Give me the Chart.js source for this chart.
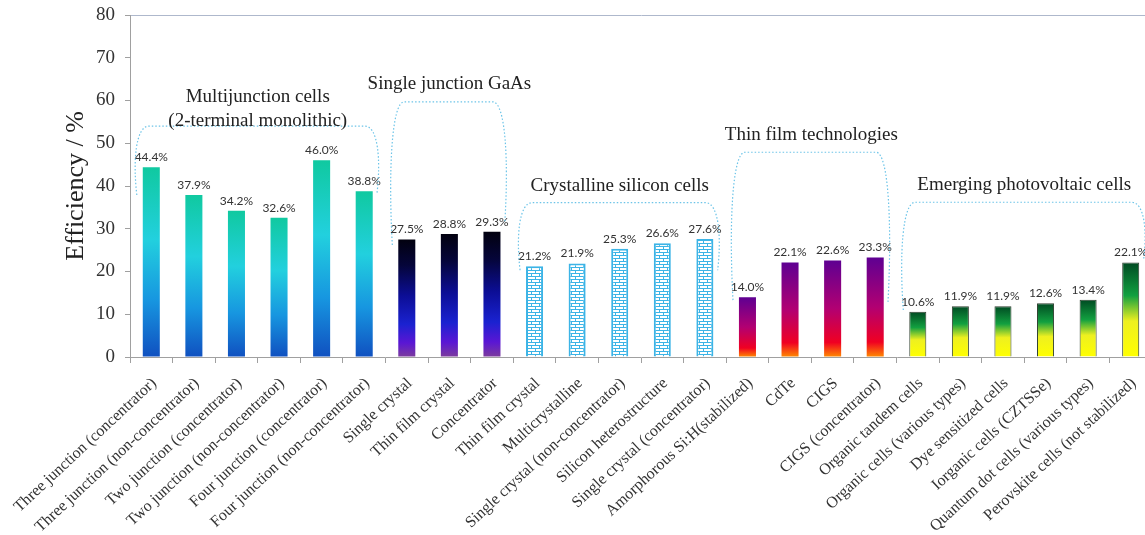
<!DOCTYPE html>
<html>
<head>
<meta charset="utf-8">
<title>Solar cell record efficiencies</title>
<script src="https://cdn.jsdelivr.net/npm/chart.js@4.4.1/dist/chart.umd.min.js"></script>
<style>
  html, body { margin: 0; padding: 0; background: #fff; overflow: hidden; }
  #wrap { width: 1152px; height: 535px; }
</style>
</head>
<body>
<div id="wrap"><canvas id="myChart" width="1152" height="535"></canvas></div>
<script>
// Cell types, in plotting order
const categories = [
    'Three junction (concentrator)', 'Three junction (non-concentrator)', 'Two junction (concentrator)',
    'Two junction (non-concentrator)', 'Four junction (concentrator)', 'Four junction (non-concentrator)',
    'Single crystal', 'Thin film crystal', 'Concentrator',
    'Thin film crystal', 'Multicrystalline', 'Single crystal (non-concentrator)',
    'Silicon heterostructure', 'Single crystal (concentrator)',
    'Amorphorous Si:H(stabilized)', 'CdTe', 'CIGS', 'CIGS (concentrator)',
    'Organic tandem cells', 'Organic cells (various types)', 'Dye sensitized cells',
    'Iorganic cells (CZTSSe)', 'Quantum dot cells (various types)', 'Perovskite cells (not stabilized)'
];

// Best efficiency (%)
const efficiency = [
    44.4, 37.9, 34.2, 32.6, 46.0, 38.8,
    27.5, 28.8, 29.3,
    21.2, 21.9, 25.3, 26.6, 27.6,
    14.0, 22.1, 22.6, 23.3,
    10.6, 11.9, 11.9, 12.6, 13.4, 22.1
];

const yTicks = [0, 10, 20, 30, 40, 50, 60, 70, 80];

// Technology groups: first and last category index of each
const groupTitles = [
    ['Multijunction cells', '(2-terminal monolithic)'],
    ['Single junction GaAs'],
    ['Crystalline silicon cells'],
    ['Thin film technologies'],
    ['Emerging photovoltaic cells']
];
const groupFrom = [0, 6, 9, 14, 18];
const groupTo = [5, 8, 13, 17, 23];

// bracket shape per group, in efficiency units: top edge, left foot, right foot, title centre
const brackets = [
    { top: 54.0, leftFoot: 37.9, rightFoot: 38.3, title: 60.8 },
    { top: 59.7, leftFoot: 26.2, rightFoot: 31.3, title: 63.9 },
    { top: 36.1, leftFoot: 20.3, rightFoot: 20.3, title: 39.9 },
    { top: 47.9, leftFoot: 13.3, rightFoot: 12.9, title: 51.9 },
    { top: 36.2, leftFoot: 11.0, rightFoot: 22.6, title: 40.2 }
];

const groupOf = categories.map((_, i) => groupFrom.findIndex((f, g) => i >= f && i <= groupTo[g]));

const serif = "'Liberation Serif', 'Times New Roman', serif";

// vertical gradient stops per group (0 = bar top, 1 = base)
const gradientStops = [
    [[0, '#10c9a0'], [0.38, '#22d0de'], [0.7, '#1796e0'], [1, '#1050c0']],
    [[0, '#02010f'], [0.22, '#05053a'], [0.48, '#0c0e96'], [0.72, '#1a22d0'], [0.88, '#5a16d4'], [1, '#7c3c9c']],
    null,
    [[0, '#5e0092'], [0.5, '#b20072'], [0.85, '#f00022'], [1, '#ff8a00']],
    [[0, '#004a22'], [0.35, '#12a040'], [0.62, '#eef020'], [1, '#ffff00']]
];

// white brick tile on cyan mortar for the silicon bars
function brickPattern(ctx) {
    const tile = document.createElement('canvas');
    tile.width = 8;
    tile.height = 6;
    const c = tile.getContext('2d');
    c.fillStyle = '#3cb4e6';
    c.fillRect(0, 0, 8, 6);
    c.fillStyle = '#ffffff';
    c.fillRect(0, 1, 7, 2);
    c.fillRect(0, 4, 3, 2);
    c.fillRect(4, 4, 4, 2);
    return ctx.createPattern(tile, 'repeat');
}
let bricks = null;

function barFill(context) {
    const chart = context.chart;
    const i = context.dataIndex;
    if (!chart.chartArea || i === undefined) return 'transparent';
    const g = groupOf[i];
    if (g === 2) {
        if (!bricks) bricks = brickPattern(chart.ctx);
        return bricks;
    }
    const y = chart.scales.y;
    const top = y.getPixelForValue(efficiency[i]);
    const base = y.getPixelForValue(0);
    const grad = chart.ctx.createLinearGradient(0, top, 0, base);
    gradientStops[g].forEach(([o, c]) => grad.addColorStop(o, c));
    return grad;
}

function barBorder(context) {
    const g = groupOf[context.dataIndex];
    if (g === 2) return '#3cb4e6';
    if (g === 4) return '#2f3f2f';
    return 'transparent';
}

// percentage above every bar
const valueLabels = {
    id: 'valueLabels',
    afterDatasetsDraw(chart) {
        const ctx = chart.ctx;
        const meta = chart.getDatasetMeta(0);
        ctx.save();
        ctx.font = "12px Lato, 'Liberation Sans', sans-serif";
        ctx.fillStyle = '#333';
        ctx.textAlign = 'center';
        ctx.textBaseline = 'bottom';
        meta.data.forEach((bar, i) => {
            ctx.fillText(efficiency[i].toFixed(1) + '%', bar.x, bar.y - 4);
        });
        ctx.restore();
    }
};

// dotted braces and titles over each technology group
const groupBrackets = {
    id: 'groupBrackets',
    afterDatasetsDraw(chart) {
        const ctx = chart.ctx;
        const x = chart.scales.x;
        const y = chart.scales.y;
        const step = x.getPixelForValue(1) - x.getPixelForValue(0);
        ctx.save();
        brackets.forEach((b, g) => {
            const xl = x.getPixelForValue(groupFrom[g]) - step * 0.34;
            const xr = x.getPixelForValue(groupTo[g]) + step * 0.3;
            const yt = y.getPixelForValue(b.top);
            const yl = y.getPixelForValue(b.leftFoot);
            const yr = y.getPixelForValue(b.rightFoot);
            ctx.beginPath();
            ctx.setLineDash([1.5, 2]);
            ctx.lineWidth = 1.2;
            ctx.strokeStyle = '#6cc4e8';
            ctx.moveTo(xl, yl);
            ctx.bezierCurveTo(xl - 4, yl - (yl - yt) * 0.5, xl - 1, yt, xl + 12, yt);
            ctx.lineTo(xr - 12, yt);
            ctx.bezierCurveTo(xr + 1, yt, xr + 4, yr - (yr - yt) * 0.5, xr, yr);
            ctx.stroke();

            ctx.setLineDash([]);
            ctx.font = '19px ' + serif;
            ctx.fillStyle = '#222';
            ctx.textAlign = 'center';
            ctx.textBaseline = 'middle';
            const cx = (x.getPixelForValue(groupFrom[g]) + x.getPixelForValue(groupTo[g])) / 2;
            const cy = y.getPixelForValue(b.title);
            groupTitles[g].forEach((line, k) => ctx.fillText(line, cx, cy + k * 24));
        });
        ctx.restore();
    }
};

const ctx = document.getElementById('myChart').getContext('2d');
const myChart = new Chart(ctx, {
    type: 'bar',
    data: {
        labels: categories,
        datasets: [{
            label: 'Efficiency',
            data: efficiency,
            backgroundColor: barFill,
            borderColor: barBorder,
            borderWidth: context => (groupOf[context.dataIndex] === 2 ? 2 : groupOf[context.dataIndex] === 4 ? 1 : 0),
            barPercentage: 0.4,
            categoryPercentage: 1
        }]
    },
    options: {
        responsive: false,
        animation: false,
        layout: { padding: { left: 0, top: 15, right: 0, bottom: 0 } },
        plugins: {
            legend: { display: false },
            tooltip: { enabled: false }
        },
        scales: {
            x: {
                grid: {
                    offset: true,
                    drawOnChartArea: false,
                    drawTicks: true,
                    tickLength: 6,
                    tickColor: '#a0a0a0'
                },
                border: { display: true, color: '#a0a0a0', width: 1 },
                ticks: {
                    autoSkip: false,
                    maxRotation: 43,
                    minRotation: 43,
                    padding: 11,
                    labelOffset: 3,
                    color: '#333',
                    font: { family: serif, size: 16 }
                },
                afterFit(scale) {
                    scale.height = 178;
                    scale.paddingLeft = 0;
                    scale.paddingRight = 0;
                }
            },
            y: {
                min: 0,
                max: 80,
                afterBuildTicks(scale) {
                    scale.ticks = yTicks.map(v => ({ value: v }));
                },
                grid: {
                    color: c => (c.tick && c.tick.value === 80 ? '#aeb8cc' : 'transparent'),
                    tickColor: '#a0a0a0',
                    tickLength: 5
                },
                border: { display: true, color: '#a0a0a0', width: 1 },
                ticks: {
                    padding: 10,
                    color: '#333',
                    font: { family: serif, size: 19 }
                },
                title: {
                    display: true,
                    text: 'Efficiency / %',
                    color: '#222',
                    padding: { top: 61, bottom: 0 },
                    font: { family: serif, size: 26 }
                },
                afterFit(scale) {
                    scale.width = 130;
                    scale.paddingTop = 0;
                    scale.paddingBottom = 0;
                }
            }
        }
    },
    plugins: [valueLabels, groupBrackets]
});
</script>
</body>
</html>
